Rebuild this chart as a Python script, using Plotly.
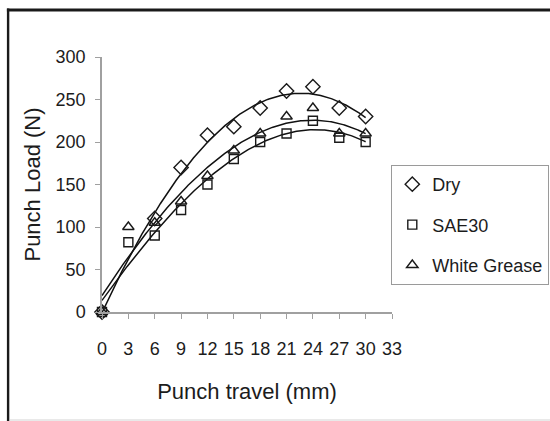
import numpy as np
import plotly.graph_objects as go

travel = [0, 3, 6, 9, 12, 15, 18, 21, 24, 27, 30]
dry = [0, None, 110, 170, 208, 218, 240, 260, 265, 240, 230]
sae30 = [0, 82, 90, 120, 150, 180, 200, 210, 225, 205, 200]
white_grease = [0, 100, 105, 130, 160, 190, 210, 230, 240, 210, 210]
series_names = ["Dry", "SAE30", "White Grease"]
symbols = ["diamond-open", "square-open", "triangle-up-open"]
x_ticks = list(range(0, 34, 3))
y_ticks = list(range(0, 301, 50))
POLY_ORDER = 3

# body margin removed in the page, so figure pixels = window pixels
W, H = 550, 421
L, T = 102, 57
PLOT_RIGHT, PLOT_BOTTOM = 391.7, 312
R = W - PLOT_RIGHT
B = H - PLOT_BOTTOM
pw, ph = W - L - R, H - T - B

def px_x(p):
    return (p - L) / pw

def px_y(p):
    return (PLOT_BOTTOM - p) / ph

fig = go.Figure()
xs = np.linspace(0, 30, 200)
for name, vals in zip(series_names, [dry, sae30, white_grease]):
    xv = np.array([x for x, v in zip(travel, vals) if v is not None], float)
    yv = np.array([v for v in vals if v is not None], float)
    coef = np.polyfit(xv, yv, POLY_ORDER)
    fig.add_trace(go.Scatter(x=xs, y=np.polyval(coef, xs), mode="lines",
                             line=dict(color="#111111", width=1.5),
                             showlegend=False, hoverinfo="skip"))
sizes = [11, 9, 10]
for name, vals, sym, sz in zip(series_names, [dry, sae30, white_grease], symbols, sizes):
    fig.add_trace(go.Scatter(x=travel, y=vals, mode="markers", name=name,
                             legendgroup=name, cliponaxis=False,
                             marker=dict(symbol=sym, size=sz, color="#1a1a1a",
                                         line=dict(width=1.4, color="#1a1a1a"))))

font_fam = "Liberation Sans, Arial, sans-serif"
fig.update_layout(
    width=W, height=H,
    margin=dict(l=L, r=R, t=T, b=B, autoexpand=False),
    paper_bgcolor="white", plot_bgcolor="white",
    font=dict(family=font_fam, size=18, color="#1c1c1c"),
    showlegend=True,
    legend=dict(x=px_x(391), y=px_y(165), xanchor="left", yanchor="top",
                bordercolor="#9a9a9a", borderwidth=1, bgcolor="white",
                font=dict(size=18), tracegroupgap=14, traceorder="grouped",
                itemwidth=30),
    xaxis=dict(range=[0, 33], tickvals=x_ticks, ticktext=[str(v) for v in x_ticks],
               showline=True, linecolor="#a0a0a0", linewidth=1.5,
               ticks="outside", ticklen=5, tickcolor="#a0a0a0", tickwidth=1,
               showgrid=False, zeroline=False, ticklabelstandoff=15,
               automargin=False,
               title=dict(text="Punch travel (mm)", standoff=25)),
    yaxis=dict(range=[0, 300], tickvals=y_ticks, ticktext=[str(v) for v in y_ticks],
               showline=True, linecolor="#a0a0a0", linewidth=1.5,
               ticks="outside", ticklen=5, tickcolor="#a0a0a0", tickwidth=1,
               showgrid=False, zeroline=False, ticklabelstandoff=6,
               automargin=False,
               title=dict(text="Punch Load (N)", standoff=9)),
)
# outer frame: left and top dark edges, faint bottom edge
fig.add_shape(type="line", xref="paper", yref="paper",
              x0=px_x(8.2), x1=px_x(8.2), y0=px_y(8.5), y1=px_y(421),
              line=dict(color="#1a1a1a", width=2.4), layer="above")
fig.add_shape(type="line", xref="paper", yref="paper",
              x0=px_x(7), x1=px_x(550), y0=px_y(10), y1=px_y(10),
              line=dict(color="#1a1a1a", width=3), layer="above")
fig.add_shape(type="line", xref="paper", yref="paper",
              x0=px_x(10), x1=px_x(550), y0=px_y(420), y1=px_y(420),
              line=dict(color="#d4d4d4", width=1.2), layer="above")
fig.write_html(
    "out.html",
    config={"displayModeBar": False},
    post_script="document.body.style.margin='0';document.body.style.overflow='hidden';",
)
